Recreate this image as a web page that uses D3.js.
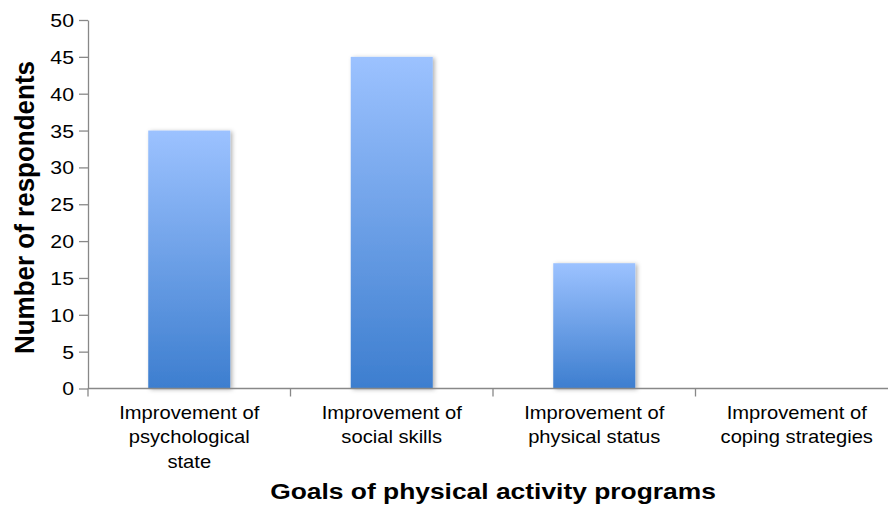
<!DOCTYPE html>
<html>
<head>
<meta charset="utf-8">
<script src="https://cdn.jsdelivr.net/npm/d3@7"></script>
<style>
  body { margin: 0; background: #fff; }
  svg { font-family: "Liberation Sans", Arial, sans-serif; }
</style>
</head>
<body>
<div id="figure-holder"></div>
<script>
// chart data
const categories = ['psych', 'social', 'physical', 'coping']
const categoryLabels = [
    ['Improvement of', 'psychological', 'state'],
    ['Improvement of', 'social skills'],
    ['Improvement of', 'physical status'],
    ['Improvement of', 'coping strategies']
]
const respondents = [35, 45, 17, 0]
const yTicks = [0, 5, 10, 15, 20, 25, 30, 35, 40, 45, 50]

const realWidth = 888, realHeight = 506
const plotLeft = 88, plotRight = 898, plotTop = 20, plotBottom = 388.5
// the reference text is a bit wider than plain Arial, so stretch it horizontally
const stretch = 1.12

const svg = d3.select('#figure-holder').append('svg')
    .attr('width', realWidth)
    .attr('height', realHeight)

const defs = svg.append('defs')
const grad = defs.append('linearGradient')
    .attr('id', 'barGrad')
    .attr('x1', 0).attr('y1', 0).attr('x2', 0).attr('y2', 1)
grad.append('stop').attr('offset', '0%').attr('stop-color', '#9cc2ff')
grad.append('stop').attr('offset', '100%').attr('stop-color', '#3d7ecf')

const shadow = defs.append('filter')
    .attr('id', 'shadow')
    .attr('x', '-20%').attr('y', '-20%').attr('width', '140%').attr('height', '140%')
shadow.append('feDropShadow')
    .attr('dx', 2).attr('dy', 1)
    .attr('stdDeviation', 2)
    .attr('flood-color', '#000')
    .attr('flood-opacity', 0.3)

const x = d3.scaleBand()
    .domain(categories)
    .range([plotLeft, plotRight])
    .padding(0)

const y = d3.scaleLinear()
    .domain([0, 50])
    .range([plotBottom, plotTop])

const barFrac = 0.405
const barW = x.bandwidth() * barFrac
const valueOf = c => respondents[categories.indexOf(c)]

// bars
svg.append('g')
    .selectAll('rect')
    .data(categories.filter(c => valueOf(c) > 0))
    .join('rect')
    .attr('x', d => x(d) + (x.bandwidth() - barW) / 2)
    .attr('y', d => y(valueOf(d)))
    .attr('width', barW)
    .attr('height', d => y(0) - y(valueOf(d)))
    .style('fill', 'url(#barGrad)')
    .attr('filter', 'url(#shadow)')

// y axis
const yAxis = svg.append('g')
    .attr('id', 'y-axis')
    .attr('transform', `translate(${plotLeft}, 0)`)
    .call(d3.axisLeft(y).tickValues(yTicks).tickSize(9).tickSizeOuter(0))
yAxis.select('.domain').attr('stroke', '#888').attr('stroke-width', 1.3)
yAxis.selectAll('.tick line').attr('stroke', '#888').attr('stroke-width', 1.3)
yAxis.selectAll('.tick text')
    .attr('x', 0)
    .attr('dy', '0.35em')
    .attr('transform', `translate(-14, 0) scale(${stretch + 0.03}, 1)`)
    .style('font-size', '18.5px')
    .style('fill', '#000')
    .style('font-family', '"Liberation Sans", Arial, sans-serif')

// x axis: boundary ticks between categories
const xAxis = svg.append('g').attr('id', 'x-axis')
xAxis.append('line')
    .attr('x1', plotLeft).attr('x2', plotRight)
    .attr('y1', y(0)).attr('y2', y(0))
    .attr('stroke', '#888').attr('stroke-width', 1.3)
xAxis.selectAll('line.tick')
    .data(categories)
    .join('line')
    .attr('class', 'tick')
    .attr('x1', d => x(d)).attr('x2', d => x(d))
    .attr('y1', y(0)).attr('y2', y(0) + 8)
    .attr('stroke', '#888').attr('stroke-width', 1.3)

const labelG = xAxis.selectAll('g.cat')
    .data(categories)
    .join('g')
    .attr('class', 'cat')
    .attr('transform', d => `translate(${x(d) + x.bandwidth() / 2}, 418.5) scale(${stretch}, 1)`)
labelG.append('text')
    .attr('text-anchor', 'middle')
    .style('font-size', '18px')
    .style('fill', '#000')
    .selectAll('tspan')
    .data((d, i) => categoryLabels[i])
    .join('tspan')
    .attr('x', 0)
    .attr('y', (d, j) => j * 25)
    .text(d => d)

// axis titles
svg.append('text')
    .text('Goals of physical activity programs')
    .attr('transform', `translate(493, 498.5) scale(1.2, 1)`)
    .attr('text-anchor', 'middle')
    .style('font-size', '22px')
    .style('font-weight', 'bold')

svg.append('text')
    .text('Number of respondents')
    .attr('transform', `translate(33.5, 207.5) scale(1.08, 1) rotate(-90)`)
    .attr('text-anchor', 'middle')
    .style('font-size', '26px')
    .style('font-weight', 'bold')
</script>
</body>
</html>
